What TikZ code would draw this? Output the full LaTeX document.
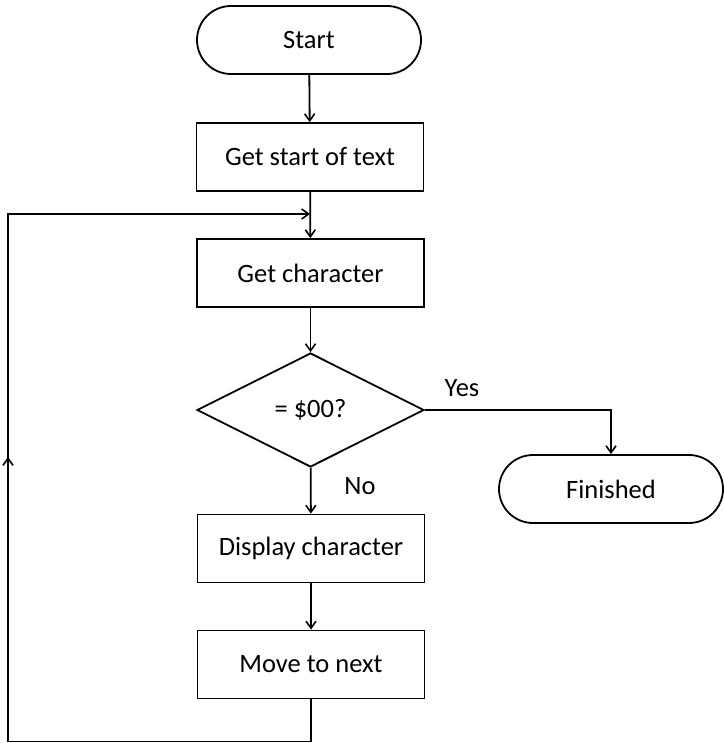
\documentclass[tikz,border=0pt]{standalone}
\usepackage{fontspec}
\setmainfont{Carlito}
\usetikzlibrary{arrows.meta,shapes.geometric}
\begin{document}
\begin{tikzpicture}[x=1pt,y=-1pt,
  every node/.style={font=\fontsize{26.5}{31}\selectfont},
  proc/.style={draw,line width=1.8pt,minimum width=227pt,minimum height=68pt,inner sep=0pt},
  term/.style={draw,line width=1.8pt,rounded corners=34pt,minimum width=224pt,minimum height=68pt,inner sep=0pt},
  decis/.style={draw,line width=1.8pt,diamond,aspect=2,minimum width=227pt,minimum height=114pt,inner sep=0pt},
  conn/.style={line width=1.8pt},
  arr/.style={conn,-{Straight Barb[length=7pt,width=10pt,line width=1.6pt]}},
  lbl/.style={inner sep=0pt}]
\useasboundingbox (0,0) rectangle (723,743);
\node[term] (start) at (309,40) {Start};
\node[proc] (gst) at (310,157) {Get start of text};
\node[proc] (gc) at (310.5,273) {Get character};
\node[decis] (dia) at (310.5,410) {= \$00?};
\node[proc] (disp) at (311,548.5) {Display character};
\node[proc] (move) at (311,664.5) {Move to next};
\node[term] (fin) at (611,489) {Finished};
\node[lbl] (yes) at (462,388) {Yes};
\node[lbl] (no) at (360,486) {No};
\coordinate (lb) at (8,741.5);
\coordinate (lt) at (8,214);
\coordinate (lm) at (8,457);
\coordinate (jn) at (310,214);
\draw[arr] (start) -- (gst);
\draw[arr] (gst) -- (gc);
\draw[arr] (gc) -- (dia);
\draw[arr] (dia) -- (disp);
\draw[arr] (disp) -- (move);
\draw[arr] (dia.east) -| (fin.north);
\draw[conn] (move.south) |- (lb) -- (lm);
\draw[arr] (lb) -- (lm);
\draw[arr] (lm) -- (lt) -- (jn);
\end{tikzpicture}
\end{document}
